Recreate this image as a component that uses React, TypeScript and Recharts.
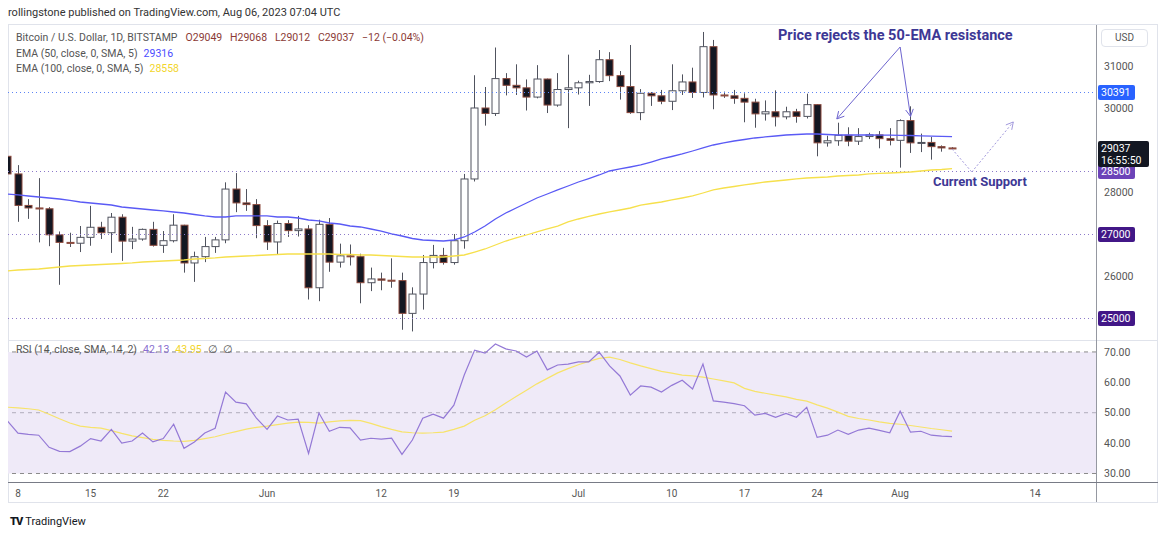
import React from 'react';
import { ComposedChart, LineChart, Bar, Line, XAxis, YAxis, ReferenceLine, ReferenceArea } from 'recharts';

// BITSTAMP BTCUSD daily candles, index 0 = 7 May 2023 ... index 91 = 6 Aug 2023
const opens = [
  28850, 28430, 27680, 27620, 27600, 26980, 26800, 26780, 26920, 27160,
  27030, 27400, 26830, 26880, 27110, 26730, 26840, 27210, 26310, 26460,
  26700, 26860, 28070, 27740, 27700, 27200, 26810, 27250, 27080, 27120,
  25720, 27230, 26330, 26480, 26460, 25840, 25930, 25900, 25890, 25110,
  25570, 26320, 26490, 26320, 26840, 28310, 30000, 29870, 30700, 30540,
  30480, 30260, 30690, 30070, 30440, 30480, 30600, 30630, 31150, 30770,
  30510, 29890, 30350, 30290, 30160, 30410, 30620, 30370, 31460, 30310,
  30290, 30230, 30140, 29860, 29910, 29790, 29910, 29800, 30080, 29170,
  29220, 29350, 29210, 29320, 29360, 29270, 29230, 29700, 29170, 29180,
  29080, 29049,
];
const highs = [
  29070, 28640, 27830, 28330, 27640, 27060, 27030, 27190, 27670, 27290,
  27500, 27470, 27170, 27130, 27290, 27070, 27470, 27220, 26580, 26930,
  26930, 28230, 28450, 28070, 27830, 27330, 27320, 27330, 27430, 27210,
  27340, 27380, 26770, 26750, 26530, 26200, 26080, 26420, 26080, 25730,
  26500, 26740, 26670, 27000, 28430, 30780, 30500, 31440, 30830, 31040,
  30680, 31020, 30700, 30830, 31270, 30650, 30790, 31380, 31330, 30880,
  31500, 30450, 30380, 30430, 31040, 30800, 30960, 31810, 31620, 30390,
  30430, 30350, 30220, 30180, 30420, 30030, 29980, 30340, 30090, 29340,
  29650, 29540, 29520, 29410, 29450, 29520, 29730, 30040, 29390, 29310,
  29110, 29068,
];
const lows = [
  28370, 27290, 27360, 26800, 26710, 25790, 26690, 26570, 26720, 26880,
  26550, 26360, 26640, 26840, 26700, 26550, 26800, 26080, 25860, 26330,
  26550, 26780, 27520, 27550, 26900, 26620, 26500, 26930, 26940, 25440,
  25400, 26100, 26200, 26250, 25350, 25640, 25660, 25720, 24720, 24680,
  25200, 26180, 26270, 26270, 26650, 28250, 29580, 29810, 30300, 30310,
  29940, 30230, 29880, 30030, 29520, 30320, 30050, 30600, 30640, 30200,
  29860, 29710, 30050, 30090, 29950, 30310, 30240, 30250, 29970, 30240,
  30100, 29660, 29530, 29700, 29560, 29730, 29650, 29750, 28850, 29080,
  29100, 29090, 29120, 29260, 29040, 29110, 28580, 28930, 28950, 28770,
  28960, 29012,
];
const closes = [
  28430, 27680, 27620, 27600, 26980, 26800, 26780, 26920, 27160, 27030,
  27400, 26830, 26880, 27110, 26730, 26840, 27210, 26310, 26460, 26700,
  26860, 28070, 27740, 27700, 27200, 26810, 27250, 27080, 27120, 25720,
  27230, 26330, 26480, 26460, 25840, 25930, 25900, 25890, 25110, 25570,
  26320, 26490, 26320, 26840, 28310, 30000, 29870, 30700, 30540, 30480,
  30260, 30690, 30070, 30440, 30480, 30600, 30630, 31150, 30770, 30510,
  29890, 30350, 30290, 30160, 30410, 30620, 30370, 31460, 30310, 30290,
  30230, 30140, 29860, 29910, 29790, 29910, 29800, 30080, 29170, 29220,
  29350, 29210, 29320, 29360, 29270, 29230, 29700, 29170, 29180, 29080,
  29049, 29037,
];
const ema50 = [
  27952, 27929, 27905, 27881, 27857, 27833, 27798, 27762, 27738, 27714,
  27690, 27643, 27619, 27595, 27571, 27548, 27524, 27500, 27464, 27429,
  27405, 27405, 27429, 27429, 27429, 27429, 27405, 27405, 27381, 27333,
  27310, 27262, 27238, 27190, 27167, 27119, 27071, 27000, 26952, 26893,
  26857, 26845, 26833, 26857, 26929, 27048, 27190, 27357, 27500, 27619,
  27738, 27857, 27952, 28048, 28143, 28238, 28321, 28405, 28500, 28548,
  28595, 28643, 28714, 28786, 28845, 28905, 28976, 29048, 29119, 29167,
  29214, 29250, 29286, 29310, 29333, 29357, 29369, 29381, 29381, 29369,
  29357, 29357, 29357, 29357, 29355, 29352, 29350, 29345, 29335, 29330,
  29322, 29316,
];
const ema100 = [
  26119, 26143, 26155, 26167, 26190, 26214, 26238, 26250, 26262, 26274,
  26286, 26298, 26310, 26333, 26345, 26357, 26369, 26381, 26405, 26417,
  26429, 26452, 26464, 26476, 26488, 26500, 26512, 26524, 26524, 26524,
  26524, 26524, 26512, 26512, 26500, 26500, 26488, 26476, 26464, 26452,
  26452, 26452, 26452, 26476, 26500, 26571, 26643, 26738, 26833, 26905,
  26976, 27048, 27119, 27190, 27286, 27357, 27417, 27476, 27524, 27571,
  27619, 27690, 27726, 27762, 27810, 27857, 27905, 27976, 28048, 28095,
  28131, 28167, 28202, 28238, 28262, 28286, 28310, 28333, 28345, 28357,
  28381, 28393, 28405, 28429, 28441, 28452, 28464, 28476, 28500, 28524,
  28536, 28558,
];
const rsi = [
  47.2, 43.3, 42.9, 42.6, 38.6, 37.3, 37.2, 39.0, 41.5, 40.7,
  44.5, 40.0, 40.7, 43.3, 40.4, 41.5, 46.2, 38.3, 40.4, 43.3,
  44.9, 56.8, 53.5, 52.9, 48.1, 44.5, 48.9, 47.6, 47.9, 36.6,
  49.9, 43.9, 45.2, 45.0, 41.0, 41.6, 41.3, 41.6, 36.3, 41.0,
  48.2, 49.5, 48.2, 52.5, 62.4, 70.6, 69.6, 72.6, 71.0, 70.3,
  68.3, 70.3, 64.1, 65.7, 66.0, 66.7, 66.7, 69.9, 65.4, 62.1,
  55.8, 58.8, 58.4, 56.8, 59.0, 60.7, 57.8, 66.0, 53.9, 53.5,
  53.0, 52.3, 49.2, 49.8, 48.5, 49.8, 48.5, 51.8, 41.9, 42.6,
  44.3, 42.9, 44.3, 44.9, 44.2, 43.4, 50.5, 43.6, 43.9, 42.6,
  42.3, 42.13,
];
const rsiMa = [
  51.8, 51.6, 51.3, 50.9, 49.5, 48.0, 46.6, 45.6, 45.2, 44.9,
  44.1, 43.2, 42.4, 41.8, 41.2, 40.9, 40.7, 40.6, 40.9, 41.5,
  42.1, 43.0, 43.8, 44.6, 45.2, 45.6, 46.1, 46.6, 46.9, 46.8,
  46.6, 47.0, 47.3, 47.5, 47.4, 46.5, 45.4, 44.5, 43.7, 43.4,
  43.3, 43.4, 43.6, 44.5, 45.6, 47.5, 49.0, 51.0, 53.2, 55.3,
  57.4, 59.5, 61.3, 63.1, 64.5, 65.8, 66.9, 67.9, 68.3, 67.5,
  66.4, 65.4, 64.5, 63.6, 63.0, 62.4, 62.1, 61.7, 61.1, 60.5,
  59.8, 58.0, 57.0, 56.4, 55.8, 55.2, 54.4, 53.8, 52.6, 51.5,
  50.2, 48.8, 48.1, 47.6, 47.0, 46.5, 46.2, 45.8, 45.3, 44.8,
  44.4, 43.95,
];

const tickDays = [1, 8, 15, 25, 36, 43, 55, 64, 71, 78, 86, 99];
const tickLabels = ['8', '15', '22', 'Jun', '12', '19', 'Jul', '10', '17', '24', 'Aug', '14'];
const priceTicks = [31000, 30000, 28000, 26000];
const rsiTicks = [30, 40, 50, 60, 70];
const resistanceLevel = 30391;
const supportLevels = [28500, 27000, 25000];
const countdown = '16:55:50';

// drawn annotations, in (day index, price)
const calloutFrom = { day: 86.0, price: 31452 };
const calloutTo = [
  { day: 79.9, price: 29740 },
  { day: 87.0, price: 29800 },
];
const projection = [
  { day: 91.0, price: 29024 },
  { day: 92.9, price: 28476 },
  { day: 96.9, price: 29667 },
];

const X_DOMAIN = [0.04, 104.87];
const FONT = 'Roboto, "Noto Sans", sans-serif';
const UP_FILL = '#ffffff';
const UP_LINE = '#50535e';
const DOWN_FILL = '#131722';
const DOWN_LINE = '#8d4b3e';

const last = closes.length - 1;

const candles = opens.map((o, i) => ({
  i,
  open: o,
  high: highs[i],
  low: lows[i],
  close: closes[i],
  range: [lows[i], highs[i]],
  ema50: ema50[i],
  ema100: ema100[i],
}));

const rsiData = rsi.map((v, i) => ({ i, rsi: v, ma: rsiMa[i] }));

const Candle = (props: any) => {
  const { x, y, width, height, payload } = props;
  if (!payload) return null;
  const { open, high, low, close } = payload;
  const top = Math.min(y, y + height);
  const h = Math.abs(height);
  const k = high > low ? h / (high - low) : 0;
  const up = close >= open;
  const bTop = top + (high - Math.max(open, close)) * k;
  const bBot = top + (high - Math.min(open, close)) * k;
  const cx = Math.round(x + width / 2) + 0.5;
  const bw = 7;
  return (
    <g>
      <line x1={cx} x2={cx} y1={top} y2={top + h} stroke={UP_LINE} strokeWidth={1} />
      <rect
        x={cx - bw / 2}
        y={bTop}
        width={bw}
        height={Math.max(bBot - bTop, 1)}
        fill={up ? UP_FILL : DOWN_FILL}
        stroke={up ? UP_LINE : DOWN_LINE}
        strokeWidth={1}
      />
    </g>
  );
};

// horizontal level with a coloured tag on the price scale
const levelShape = (lineColor: string | null, tagColor: string, text: string, sub?: string) => (p: any) => {
  const left = Math.min(p.x1, p.x2);
  const right = Math.max(p.x1, p.x2);
  const yy = Math.round(p.y1) + 0.5;
  return (
    <g>
      {lineColor && <line x1={left} y1={yy} x2={right} y2={yy} stroke={lineColor} strokeDasharray="1 3" strokeWidth={1} />}
      <rect x={right + 2} y={yy - 7.5} width={sub ? 51 : 37} height={sub ? 26 : 15} rx={2} fill={tagColor} />
      <text x={right + 5} y={yy + 3.5} fill="#fff" fontSize={10.5} fontFamily={FONT}>{text}</text>
      {sub && <text x={right + 5} y={yy + 15} fill="#fff" fontSize={10.5} fontFamily={FONT}>{sub}</text>}
    </g>
  );
};

const arrowShape = (color: string, dash?: string, head = true) => (p: any) => {
  const { x1, y1, x2, y2 } = p;
  const a = Math.atan2(y2 - y1, x2 - x1);
  const L = 8;
  const s = 0.5;
  const h1 = `${x2 - L * Math.cos(a - s)},${y2 - L * Math.sin(a - s)}`;
  const h2 = `${x2 - L * Math.cos(a + s)},${y2 - L * Math.sin(a + s)}`;
  return (
    <g>
      <line x1={x1} y1={y1} x2={x2} y2={y2} stroke={color} strokeWidth={1} strokeDasharray={dash} />
      {head && <polyline points={`${h1} ${x2},${y2} ${h2}`} fill="none" stroke={color} strokeWidth={1} />}
    </g>
  );
};

const abs = (style: React.CSSProperties): React.CSSProperties => ({ position: 'absolute', whiteSpace: 'nowrap', ...style });

export default function App() {
  const change = closes[last] - closes[last - 1];
  const pct = ((change / closes[last - 1]) * 100).toFixed(2);
  const fmtChange = (v: number) => (v < 0 ? `\u2212${Math.abs(v)}` : `+${v}`);
  const pctText = change < 0 ? `\u2212${pct.replace('-', '')}` : pct;

  return (
    <div style={{ position: 'relative', width: 1160, height: 539, background: '#fff', fontFamily: FONT, overflow: 'hidden' }}>
      <style>{'body{margin:0}'}</style>

      <div style={abs({ left: 8, top: 5, fontSize: 11, color: '#333', lineHeight: '16px' })}>
        rollingstone published on TradingView.com, Aug 06, 2023 07:04 UTC
      </div>

      {/* widget frame */}
      <div style={abs({ left: 8, top: 24, width: 1150, height: 479, border: '1px solid #e0e3eb', boxSizing: 'border-box' })} />

      <div style={abs({ left: 0, top: 0 })}>
        <ComposedChart width={1160} height={340} data={candles} margin={{ top: 25, right: 4, bottom: 0, left: 8 }}>
          <XAxis dataKey="i" type="number" domain={X_DOMAIN} allowDataOverflow hide />
          <YAxis
            orientation="right"
            domain={[24476, 31976]}
            allowDataOverflow
            ticks={priceTicks}
            width={60}
            axisLine={false}
            tickLine={false}
            tick={{ fill: '#555', fontSize: 10.5, fontFamily: FONT }}
          />
          <ReferenceLine y={resistanceLevel} shape={levelShape('#5d84f5', '#2962ff', String(resistanceLevel))} />
          {supportLevels.map((lv, k) => (
            <ReferenceLine
              key={lv}
              y={lv}
              shape={levelShape('#8c79c9', k === 0 ? '#6c43b8' : '#421787', String(lv))}
            />
          ))}
          <Line dataKey="ema100" stroke="#f6e04c" strokeWidth={1.3} dot={false} activeDot={false} isAnimationActive={false} />
          <Line dataKey="ema50" stroke="#5a5af5" strokeWidth={1.3} dot={false} activeDot={false} isAnimationActive={false} />
          <Bar dataKey="range" barSize={8} shape={<Candle />} isAnimationActive={false} />
          <ReferenceLine y={closes[last]} shape={levelShape(null, '#131722', String(closes[last]), countdown)} />
          {calloutTo.map((pt, k) => (
            <ReferenceLine
              key={k}
              segment={[{ x: calloutFrom.day, y: calloutFrom.price }, { x: pt.day, y: pt.price }]}
              shape={arrowShape('#6d64cf')}
            />
          ))}
          <ReferenceLine
            segment={[{ x: projection[0].day, y: projection[0].price }, { x: projection[1].day, y: projection[1].price }]}
            shape={arrowShape('#a198dc', '2 2', false)}
          />
          <ReferenceLine
            segment={[{ x: projection[1].day, y: projection[1].price }, { x: projection[2].day, y: projection[2].price }]}
            shape={arrowShape('#a198dc', '2 2', true)}
          />
        </ComposedChart>
      </div>

      <div style={abs({ left: 0, top: 341 })}>
        <LineChart width={1160} height={162} data={rsiData} margin={{ top: 0, right: 4, bottom: 0, left: 8 }}>
          <XAxis
            dataKey="i"
            type="number"
            domain={X_DOMAIN}
            allowDataOverflow
            ticks={tickDays}
            interval={0}
            tickFormatter={(v: number) => tickLabels[tickDays.indexOf(v)] ?? ''}
            height={21}
            axisLine={false}
            tickLine={false}
            tick={{ fill: '#555', fontSize: 10, fontFamily: FONT }}
          />
          <YAxis
            orientation="right"
            domain={[27.2, 73.6]}
            allowDataOverflow
            ticks={rsiTicks}
            width={60}
            axisLine={false}
            tickLine={false}
            tickFormatter={(v: number) => v.toFixed(2)}
            tick={{ fill: '#555', fontSize: 10.5, fontFamily: FONT }}
          />
          <ReferenceArea y1={30} y2={70} fill="#efeaf8" fillOpacity={1} stroke="none" />
          <ReferenceLine y={70} stroke="#8a8a8a" strokeDasharray="4 4" />
          <ReferenceLine y={50} stroke="#b0acbb" strokeDasharray="4 4" />
          <ReferenceLine y={30} stroke="#8a8a8a" strokeDasharray="4 4" />
          <Line dataKey="ma" stroke="#f7e36a" strokeWidth={1.2} dot={false} activeDot={false} isAnimationActive={false} />
          <Line dataKey="rsi" stroke="#9479d6" strokeWidth={1.2} dot={false} activeDot={false} isAnimationActive={false} />
        </LineChart>
      </div>

      {/* pane separator, price scale border, time axis line */}
      <div style={abs({ left: 8, top: 340, width: 1150, height: 1, background: '#e0e3eb' })} />
      <div style={abs({ left: 1096, top: 25, width: 1, height: 477, background: '#9598a1' })} />
      <div style={abs({ left: 8, top: 482, width: 1150, height: 1, background: '#787b86' })} />

      {/* legend */}
      <div style={abs({ left: 16, top: 30, fontSize: 10.5, lineHeight: '15.5px', color: '#555' })}>
        <div>
          Bitcoin / U.S. Dollar, 1D, BITSTAMP
          <span style={{ color: '#8b3a35', marginLeft: 8 }}>
            O{opens[last]}&nbsp;&nbsp;&nbsp;H{highs[last]}&nbsp;&nbsp;&nbsp;L{lows[last]}&nbsp;&nbsp;&nbsp;C{closes[last]}&nbsp;&nbsp;&nbsp;{fmtChange(change)} ({pctText}%)
          </span>
        </div>
        <div>
          EMA (50, close, 0, SMA, 5)<span style={{ color: '#4b4bff', marginLeft: 6 }}>{ema50[last]}</span>
        </div>
        <div>
          EMA (100, close, 0, SMA, 5)<span style={{ color: '#f2d52b', marginLeft: 6 }}>{ema100[last]}</span>
        </div>
      </div>

      <div style={abs({ left: 16, top: 343, fontSize: 10.5, lineHeight: '14px', color: '#555' })}>
        RSI (14, close, SMA, 14, 2)
        <span style={{ color: '#8a6fd0', marginLeft: 6 }}>{rsi[last].toFixed(2)}</span>
        <span style={{ color: '#f2d52b', marginLeft: 6 }}>{rsiMa[last].toFixed(2)}</span>
        <span style={{ marginLeft: 6 }}>∅&nbsp;&nbsp;∅</span>
      </div>

      <div
        style={abs({
          left: 1101, top: 29, width: 47, height: 18, border: '1px solid #e0e3eb', borderRadius: 4,
          boxSizing: 'border-box', fontSize: 10, color: '#555', textAlign: 'center', lineHeight: '16px',
        })}
      >
        USD
      </div>

      {/* annotations */}
      <div style={abs({ left: 778, top: 27, fontSize: 14.5, fontWeight: 700, color: '#3d3895', lineHeight: '18px' })}>
        Price rejects the 50-EMA resistance
      </div>
      <div style={abs({ left: 933, top: 174, fontSize: 13, fontWeight: 700, color: '#3d3895', lineHeight: '16px' })}>
        Current Support
      </div>

      <div style={abs({ left: 10, top: 514, fontSize: 11, color: '#131722', lineHeight: '16px' })}>
        <span style={{ fontWeight: 900, letterSpacing: -1, marginRight: 3 }}>TV</span>TradingView
      </div>
    </div>
  );
}
